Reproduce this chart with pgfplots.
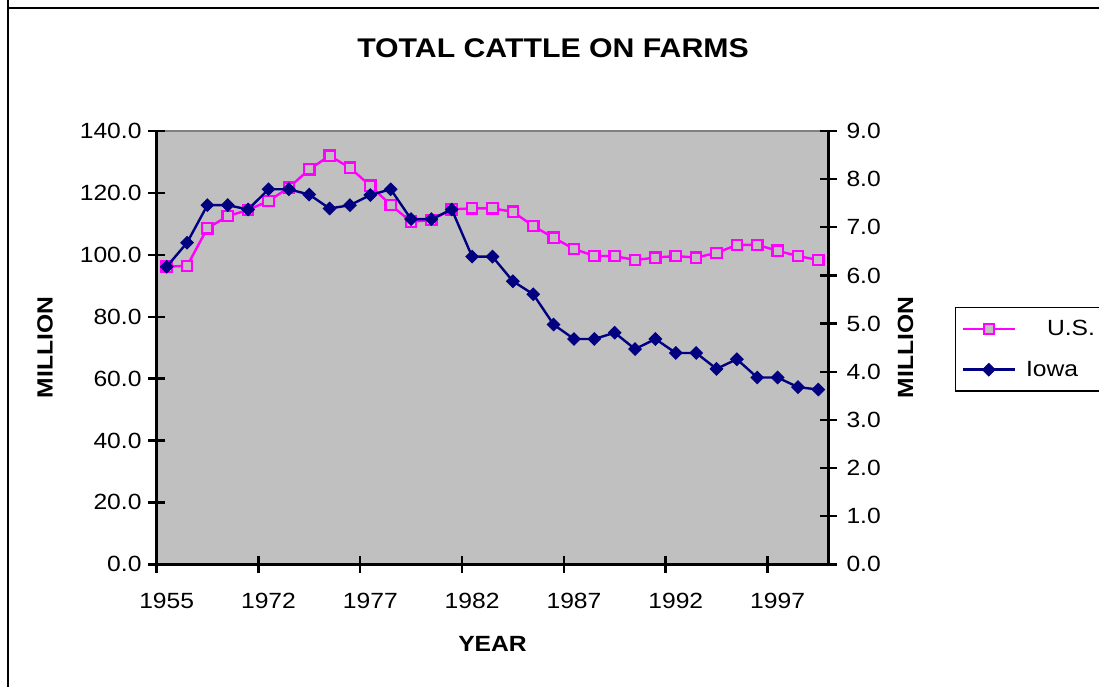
\documentclass[border=0pt]{standalone}
\usepackage{fontspec}
\setmainfont[FakeStretch=1.12]{Liberation Sans}
\usepackage{pgfplots}
\pgfplotsset{compat=1.18}

\definecolor{plotgray}{HTML}{C0C0C0}
\definecolor{usmag}{HTML}{FF00FF}
\definecolor{iowanavy}{HTML}{000080}

\newcommand{\tickfont}{\fontsize{22}{26}\selectfont}
\newcommand{\labfont}{\fontsize{22}{26}\selectfont\bfseries}

\pgfplotsset{
  cattle/.style={
    scale only axis, width=672pt, height=433.3pt,
    at={(156.5pt,121.7pt)}, anchor=south west,
    xmin=-0.5, xmax=32.5, ymin=0,
    tick align=center, major tick length=17pt,
    axis line style={line width=2.4pt, black},
    every tick/.style={line width=2.4pt, black},
    tick label style={font=\tickfont},
  },
  usline/.style={color=usmag, line width=2.4pt, mark=square*,
    mark size=5.2pt, mark options={fill=plotgray, draw=usmag, line width=2.3pt}},
  iowaline/.style={color=iowanavy, line width=2.4pt, mark=square*,
    mark size=4.4pt, mark options={rotate=45, fill=iowanavy, line width=1pt}},
}

\pgfplotstableread{
x val
0 96.2
1 96.4
2 108.6
3 112.5
4 114.5
5 117.4
6 121.7
7 127.6
8 132.0
9 128.1
10 122.3
11 116.1
12 110.7
13 111.2
14 114.7
15 115.0
16 115.0
17 113.9
18 109.3
19 105.5
20 101.9
21 99.6
22 99.6
23 98.3
24 99.1
25 99.6
26 99.1
27 100.6
28 103.2
29 103.2
30 101.3
31 99.6
32 98.3
}\us

\pgfplotstableread{
x val
0 6.18
1 6.68
2 7.46
3 7.46
4 7.37
5 7.79
6 7.79
7 7.68
8 7.39
9 7.46
10 7.67
11 7.79
12 7.17
13 7.17
14 7.37
15 6.39
16 6.39
17 5.88
18 5.61
19 4.98
20 4.68
21 4.68
22 4.81
23 4.47
24 4.68
25 4.39
26 4.39
27 4.06
28 4.26
29 3.88
30 3.88
31 3.68
32 3.63
}\iowa

\begin{document}
\begin{tikzpicture}
\useasboundingbox (0pt,0pt) rectangle (1099pt,686pt);
% chart area frame (only top and left edges fall inside the picture)
\draw[line width=2pt] (8pt,690pt) -- (8pt,678pt) -- (1105pt,678pt);
\draw[line width=2pt] (8pt,678pt) -- (8pt,-5pt);

\begin{axis}[cattle, ymax=140,
  axis background/.style={fill=plotgray, draw=gray, line width=1.5pt},
  axis x line*=bottom, axis y line*=left,
  xtick={-0.5,4.5,...,29.5}, xticklabels={,,,,,,},
  extra x ticks={0,5,...,30},
  extra x tick labels={1955,1972,1977,1982,1987,1992,1997},
  extra x tick style={major tick length=0pt},
  xticklabel style={yshift=-25pt},
  ytick={0,20,...,140},
  yticklabels={0.0,20.0,40.0,60.0,80.0,100.0,120.0,140.0},
  yticklabel style={xshift=-3pt},
  xlabel={YEAR}, ylabel={MILLION},
  every axis x label/.style={at={(axis description cs:0.5,-0.184)}, anchor=center, font=\labfont},
  every axis y label/.style={at={(axis description cs:-0.166,0.5)}, rotate=90, anchor=center, font=\labfont},
  title={TOTAL CATTLE ON FARMS},
  title style={at={(axis description cs:0.59,1.178)}, anchor=center, font=\fontsize{27}{32}\selectfont\bfseries},
]
\addplot[usline] table[x=x, y=val] {\us};
\end{axis}

\begin{axis}[cattle, ymax=9,
  axis x line=none, axis y line*=right,
  ytick={0,1,...,9},
  yticklabels={0.0,1.0,2.0,3.0,4.0,5.0,6.0,7.0,8.0,9.0},
  yticklabel style={xshift=6pt},
  ylabel={MILLION},
  every axis y label/.style={at={(axis description cs:1.1146,0.5)}, rotate=90, anchor=center, font=\labfont},
  legend style={at={(axis description cs:1.188,0.5945)}, anchor=north west,
    draw=black, line width=1.6pt, fill=white, font=\tickfont,
    row sep=20pt, inner ysep=11pt, inner xsep=6pt, cells={anchor=west},
    /tikz/every odd column/.append style={column sep=8pt}},
  legend image code/.code={\draw[mark repeat=2,mark phase=2] plot coordinates {(0pt,0pt) (26pt,0pt) (52pt,0pt)};},
]
\addlegendimage{usline}
\addlegendentry{\hspace*{21pt}U.S.}
\addplot[iowaline] table[x=x, y=val] {\iowa};
\addlegendentry{Iowa}
\end{axis}
\end{tikzpicture}
\end{document}
